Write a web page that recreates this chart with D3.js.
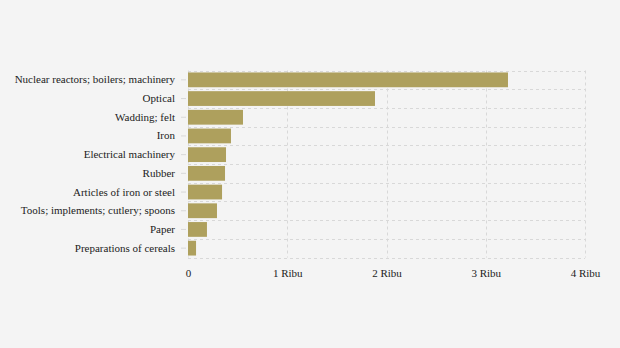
<!DOCTYPE html>
<html><head><meta charset="utf-8">
<script src="https://cdn.jsdelivr.net/npm/d3@7"></script>
<style>html,body{margin:0;padding:0;background:#f4f4f4;font-family:"Liberation Serif",serif;}svg{display:block;}</style>
</head><body><div id="chart"></div>
<script>
const categories = ["Nuclear reactors; boilers; machinery","Optical","Wadding; felt","Iron","Electrical machinery","Rubber","Articles of iron or steel","Tools; implements; cutlery; spoons","Paper","Preparations of cereals"];
const values = [3224, 1884, 554, 433, 383, 373, 343, 292, 191, 81];
const xTicks = [0, 1000, 2000, 3000, 4000];
const xTickLabels = ["0", "1 Ribu", "2 Ribu", "3 Ribu", "4 Ribu"];

const FONT = "Liberation Serif";
const W = 620, H = 348;
const m = {left: 188, right: 35, top: 70.5, bottom: 90.5};
const svg = d3.select("#chart").append("svg").attr("width", W).attr("height", H)
  .attr("font-family", FONT).style("font-family", FONT);
svg.append("rect").attr("width", W).attr("height", H).attr("fill", "#f4f4f4");

const x = d3.scaleLinear().domain([0, 4000]).range([m.left, W - m.right]);
const y = d3.scaleBand().domain(categories).range([m.top, H - m.bottom]).paddingInner(0.21).paddingOuter(0.105);

const grid = svg.append("g").attr("stroke", "#d8d8d8").attr("stroke-dasharray", "3,3").attr("stroke-width", 1);
xTicks.forEach(t => grid.append("line").attr("x1", Math.round(x(t))+0.5).attr("x2", Math.round(x(t))+0.5).attr("y1", m.top).attr("y2", H - m.bottom));
const bounds = d3.range(categories.length + 1).map(i => m.top + i * (H - m.bottom - m.top) / categories.length);
bounds.forEach(b => grid.append("line").attr("x1", m.left).attr("x2", W - m.right).attr("y1", Math.round(b)+0.5).attr("y2", Math.round(b)+0.5));

svg.append("g").selectAll("rect").data(values).join("rect")
  .attr("x", x(0)).attr("y", (d, i) => y(categories[i]))
  .attr("width", d => x(d) - x(0)).attr("height", y.bandwidth())
  .attr("fill", "#aea05d");

const yAxis = d3.axisLeft(y).tickSize(5).tickPadding(6);
const gy = svg.append("g").attr("transform", `translate(${m.left - 2},0)`).call(yAxis);
gy.attr("font-family", null).attr("font-size", null);
gy.select(".domain").remove();
gy.selectAll(".tick line").attr("stroke", "#d8d8d8");
gy.selectAll("text").style("font-family", FONT).style("font-size", "11px").attr("fill", "#222");

const xAxis = d3.axisBottom(x).tickValues(xTicks).tickFormat((d, i) => xTickLabels[i]).tickSize(0).tickPadding(12);
const gx = svg.append("g").attr("transform", `translate(0,${H - m.bottom})`).call(xAxis);
gx.attr("font-family", null).attr("font-size", null);
gx.select(".domain").remove();
gx.selectAll("text").style("font-family", FONT).style("font-size", "11px").attr("fill", "#222");
</script></body></html>
